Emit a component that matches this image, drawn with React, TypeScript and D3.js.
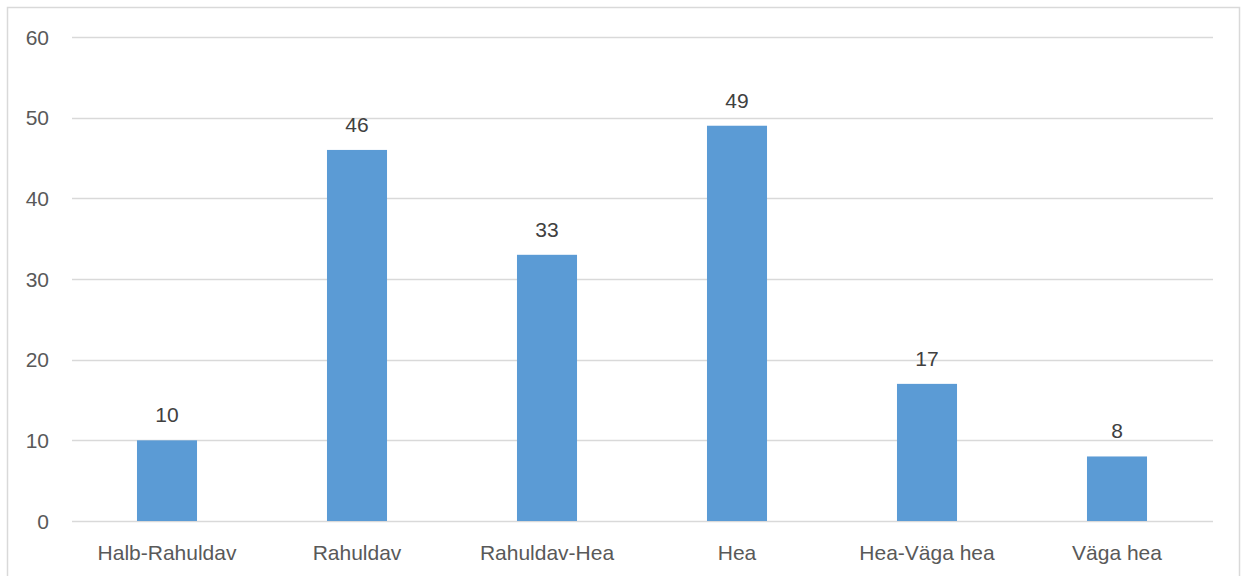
import React from "react";
import * as d3 from "d3";

const categories = ["Halb-Rahuldav", "Rahuldav", "Rahuldav-Hea", "Hea", "Hea-Väga hea", "Väga hea"];
const values = [10, 46, 33, 49, 17, 8];
const yTicks = [0, 10, 20, 30, 40, 50, 60];

export default function App() {
  const W = 1245, H = 576;
  const x = d3.scaleBand<string>().domain(categories).range([72, 1212]).paddingInner(0.684).paddingOuter(0.342);
  const y = d3.scaleLinear().domain([0, 60]).range([521, 37]);
  const font = "'Liberation Sans', Arial, sans-serif";
  return (
    <svg width={W} height={H} style={{ position: "absolute", left: 0, top: 0, background: "#fff" }}>
      <rect x={7.5} y={7.5} width={1232} height={620} fill="#fff" stroke="#d9d9d9" strokeWidth={1.5} />
      {yTicks.map((t) => (
        <g key={t}>
          <line x1={72} x2={1213} y1={Math.round(y(t)) + 0.5} y2={Math.round(y(t)) + 0.5} stroke="#d9d9d9" strokeWidth={1.5} />
          <text x={49} y={y(t) + 7.5} textAnchor="end" fontFamily={font} fontSize={21} fill="#595959">{t}</text>
        </g>
      ))}
      {categories.map((c, i) => (
        <g key={c}>
          <rect x={x(c)} y={y(values[i])} width={x.bandwidth()} height={y(0) - y(values[i])} fill="#5b9bd5" />
          <text x={(x(c) as number) + x.bandwidth() / 2} y={y(values[i]) - 18} textAnchor="middle" fontFamily={font} fontSize={21} fill="#404040">{values[i]}</text>
          <text x={(x(c) as number) + x.bandwidth() / 2} y={560} textAnchor="middle" fontFamily={font} fontSize={21} fill="#595959">{c}</text>
        </g>
      ))}
    </svg>
  );
}
